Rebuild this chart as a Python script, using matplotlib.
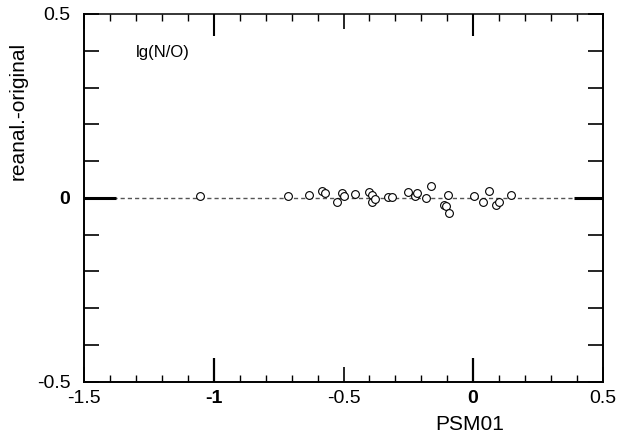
import numpy as np
import matplotlib
matplotlib.use("Agg")
import matplotlib.pyplot as plt

plt.rcParams["font.family"] = ["Liberation Sans", "DejaVu Sans"]

# PSM01 value vs. (reanalysed - original) lg(N/O)
psm01 = [-1.054, -0.715, -0.633, -0.582, -0.571, -0.526, -0.505, -0.498,
         -0.456, -0.400, -0.391, -0.390, -0.378, -0.327, -0.314, -0.250,
         -0.224, -0.215, -0.182, -0.164, -0.112, -0.106, -0.093, -0.096,
         0.003, 0.037, 0.061, 0.088, 0.099, 0.146]
diff = [0.005, 0.005, 0.008, 0.019, 0.014, -0.011, 0.012, 0.005,
        0.011, 0.015, 0.007, -0.012, -0.004, 0.003, 0.003, 0.017,
        0.005, 0.014, 0.000, 0.031, -0.019, -0.022, -0.042, 0.008,
        0.004, -0.011, 0.019, -0.019, -0.011, 0.008]

XMAJ = [-1.5, -1, -0.5, 0, 0.5]
XLAB = ["-1.5", "-1", "-0.5", "0", "0.5"]
YMAJ = [-0.5, 0, 0.5]
YLAB = ["-0.5", "0", "0.5"]

fig = plt.figure(figsize=(6.28, 4.43), dpi=100)
ax = fig.add_axes([84.3 / 628, 1 - 381.7 / 443, (602.7 - 84.3) / 628, (381.7 - 14) / 443])

ax.plot([-1.5, 0.5], [0, 0], color="#555555", lw=1.0, dashes=(3, 2.2), zorder=1)
ax.plot(psm01, diff, "o", ms=5.6, mfc="white", mec="black", mew=0.8, zorder=3)

ax.set_xlim(-1.5, 0.5)
ax.set_ylim(-0.5, 0.5)

ax.set_xticks(XMAJ)
ax.set_xticklabels(XLAB)
ax.set_xticks(np.arange(-1.4, 0.45, 0.1), minor=True)
ax.set_yticks(YMAJ)
ax.set_yticklabels(YLAB)
ax.set_yticks(np.arange(-0.4, 0.45, 0.1), minor=True)

ax.tick_params(axis="both", which="both", direction="in", top=True, right=True,
               color="black", labelsize=14)
ax.tick_params(axis="x", which="major", length=11, width=1.2, pad=6)
ax.tick_params(axis="x", which="minor", length=5, width=1.0)
ax.tick_params(axis="y", which="major", length=11, width=1.2, pad=10)
ax.tick_params(axis="y", which="minor", length=11, width=1.2)

for sp in ax.spines.values():
    sp.set_linewidth(1.4)
ax.spines["top"].set_linewidth(1.1)

# emphasise the -1 and 0 ticks
for i, t in enumerate(ax.xaxis.get_major_ticks()):
    if XLAB[i] in ("-1", "0"):
        t.tick1line.set_markersize(17)
        t.tick2line.set_markersize(16)
        t.tick1line.set_markeredgewidth(1.6)
        t.tick2line.set_markeredgewidth(1.5)
        t.label1.set_fontweight("bold")
for i, t in enumerate(ax.yaxis.get_major_ticks()):
    if YLAB[i] == "0":
        t.tick1line.set_markersize(23)
        t.tick2line.set_markersize(21)
        t.tick1line.set_markeredgewidth(2.2)
        t.tick2line.set_markeredgewidth(2.2)
        t.label1.set_fontweight("bold")

fig.text(136 / 628, 1 - 52 / 443, "lg(N/O)", fontsize=12, ha="left", va="center")
fig.text(18 / 628, 1 - 111 / 443, "reanal.-original", rotation=90,
         fontsize=15, ha="center", va="center")
fig.text(470 / 628, 1 - 425 / 443, "PSM01", fontsize=15, ha="center", va="center")

fig.savefig("out.png", dpi=100)
